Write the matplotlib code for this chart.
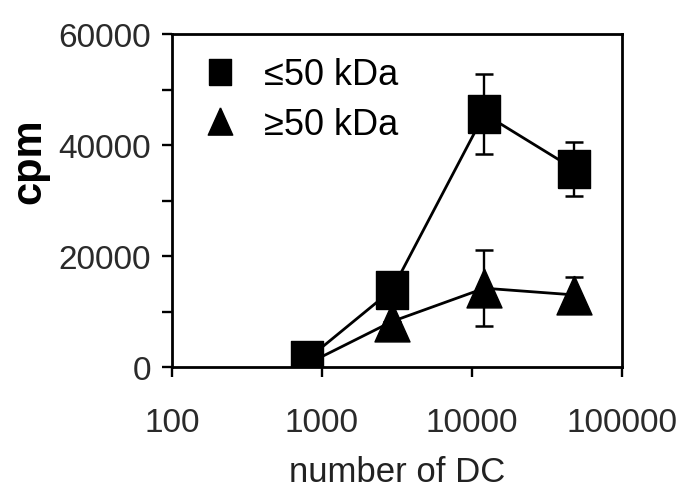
import numpy as np
import matplotlib
matplotlib.use('Agg')
import matplotlib.pyplot as plt
from matplotlib.lines import Line2D
from matplotlib.ticker import MultipleLocator, FixedLocator, NullLocator

plt.rcParams['font.family'] = ['Liberation Sans', 'DejaVu Sans']

# values
dc = [790, 2930, 12100, 47700]
small_cpm = [1300, 13900, 45600, 35700]   # <=50 kDa
small_err = [0, 0, 7200, 4800]
large_cpm = [500, 8200, 14200, 13000]     # >=50 kDa
large_err = [0, 0, 6800, 3200]

xticks = [100, 1000, 10000, 100000]
xtick_labels = ['100', '1000', '10000', '100000']

# slightly tall square / triangle as in the scanned figure
sq = [(-0.86, -1), (0.86, -1), (0.86, 1), (-0.86, 1), (-0.86, -1)]
tri = [(0, 1), (-0.9, -1), (0.9, -1), (0, 1)]

fig = plt.figure(figsize=(6.8, 4.89), dpi=100)
ax = fig.add_axes([0.2529, 0.2474, 0.6618, 0.681])

ax.errorbar(dc, large_cpm, yerr=large_err, color='black', lw=2.0,
            marker=tri, ms=28, mfc='black', mec='black',
            elinewidth=1.7, capsize=6.5, capthick=1.8, zorder=3)
ax.errorbar(dc, small_cpm, yerr=small_err, color='black', lw=2.0,
            marker=sq, ms=27.5, mfc='black', mec='black',
            elinewidth=1.7, capsize=6.5, capthick=1.8, zorder=4)

ax.set_xscale('log')
ax.set_xlim(100, 100000)
ax.set_ylim(0, 60000)
ax.xaxis.set_major_locator(FixedLocator(xticks))
ax.xaxis.set_minor_locator(NullLocator())
ax.set_xticklabels(xtick_labels)
ax.yaxis.set_major_locator(MultipleLocator(20000))
ax.yaxis.set_minor_locator(MultipleLocator(10000))

for s in ax.spines.values():
    s.set_linewidth(2.0)

ax.tick_params(axis='x', which='major', direction='out', length=7.5, width=1.7,
               labelsize=24, labelcolor='#2a2a2a', pad=21.5)
ax.tick_params(axis='y', which='both', direction='out', length=7, width=1.7,
               labelsize=24, labelcolor='#2a2a2a', pad=8)

ax.set_xlabel('number of DC', fontsize=25, color='#222222')
ax.xaxis.set_label_coords(0.5, -0.265)
ax.set_ylabel('cpm', fontsize=30, fontweight='bold', va='center')
ax.yaxis.set_label_coords(-0.316, 0.622)

handles = [Line2D([], [], ls='none', marker=sq, ms=27.5, color='black'),
           Line2D([], [], ls='none', marker=tri, ms=28, color='black')]
ax.legend(handles, ['\u226450 kDa', '\u226550 kDa'], loc='upper left',
          bbox_to_anchor=(0.0667, 0.93), frameon=False, fontsize=26,
          markerscale=0.7, handlelength=1.0, handletextpad=0.72,
          labelspacing=0.40, borderpad=0, borderaxespad=0)

fig.savefig('out.png', dpi=100)
